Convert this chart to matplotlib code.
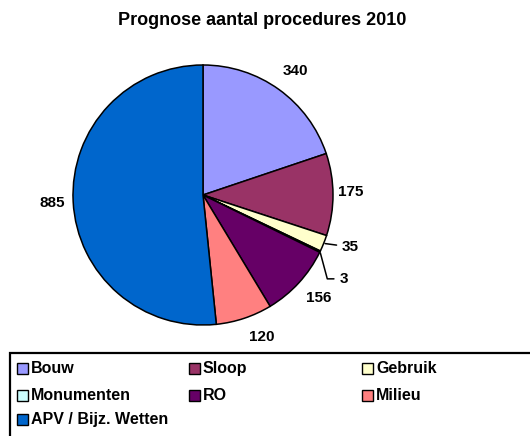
import numpy as np
import matplotlib
matplotlib.use('Agg')
import matplotlib.pyplot as plt
from matplotlib.patches import Rectangle

plt.rcParams['font.family'] = ['Liberation Sans', 'DejaVu Sans']
plt.rcParams['font.weight'] = 'bold'

# data
categories = ['Bouw', 'Sloop', 'Gebruik', 'Monumenten', 'RO', 'Milieu', 'APV / Bijz. Wetten']
values = [340, 175, 35, 3, 156, 120, 885]
colors = ['#9999FF', '#993366', '#FFFFCC', '#CCFFFF', '#660066', '#FF8080', '#0066CC']
title = 'Prognose aantal procedures 2010'

W, H = 530, 436
fig = plt.figure(figsize=(W / 100, H / 100), dpi=100)

# pie axes: centre ~(203,195) px, radius ~130 px
cx, cy, r = 203, 195, 130
ax = fig.add_axes([(cx - r) / W, (H - cy - r) / H, 2 * r / W, 2 * r / H])
wedges, _ = ax.pie(values, colors=colors, startangle=90, counterclock=False,
                   wedgeprops=dict(edgecolor='black', linewidth=1.1))
ax.set_xlim(-1, 1)
ax.set_ylim(-1, 1)
ax.set_aspect('equal')
ax.axis('off')

# value labels outside the wedges
label_pos = {0: (1.19, -1), 1: (1.14, 1), 4: (1.19, 0.7), 5: (1.18, 4), 6: (1.16, 0)}
for i, w in enumerate(wedges):
    mid = np.deg2rad((w.theta1 + w.theta2) / 2)
    if i in label_pos:
        d, nudge = label_pos[i]
        a = mid + np.deg2rad(nudge)
        ax.text(d * np.cos(a), d * np.sin(a), str(values[i]), ha='center', va='center',
                fontsize=11, fontweight='bold')

# small slices with leader lines
leaders = {2: (1.07, -0.40, 'arc3,rad=0'),
           3: (1.05, -0.645, 'angle,angleA=0,angleB=-75,rad=0')}
for i, (tx, ty, conn) in leaders.items():
    w = wedges[i]
    mid = np.deg2rad((w.theta1 + w.theta2) / 2)
    ax.annotate(str(values[i]), xy=(np.cos(mid), np.sin(mid)), xytext=(tx, ty),
                ha='left', va='center', fontsize=11, fontweight='bold',
                arrowprops=dict(arrowstyle='-', color='black', lw=1.1, shrinkA=2, shrinkB=1,
                                connectionstyle=conn))

fig.text(262 / W, 1 - 25 / H, title, ha='center', va='baseline', fontsize=13, fontweight='bold')

# legend box drawn by hand, three columns filled row-wise
box_left, box_top = 10, 353
fig.patches.append(Rectangle((box_left / W, -0.1), 1.0, (H - box_top) / H + 0.1,
                             transform=fig.transFigure, facecolor='white',
                             edgecolor='black', linewidth=1.6))
col_x = [17, 189, 362]
row_y = [368, 395, 419]
for k, (lab, col) in enumerate(zip(categories, colors)):
    x0 = col_x[k % 3]
    y0 = row_y[k // 3]
    fig.patches.append(Rectangle((x0 / W, (H - y0 - 5.5) / H), 11 / W, 11 / H,
                                 transform=fig.transFigure, facecolor=col,
                                 edgecolor='black', linewidth=1))
    fig.text((x0 + 14) / W, 1 - y0 / H, lab, ha='left', va='center', fontsize=11.5,
             fontweight='bold')

fig.savefig('out.png', dpi=100)
